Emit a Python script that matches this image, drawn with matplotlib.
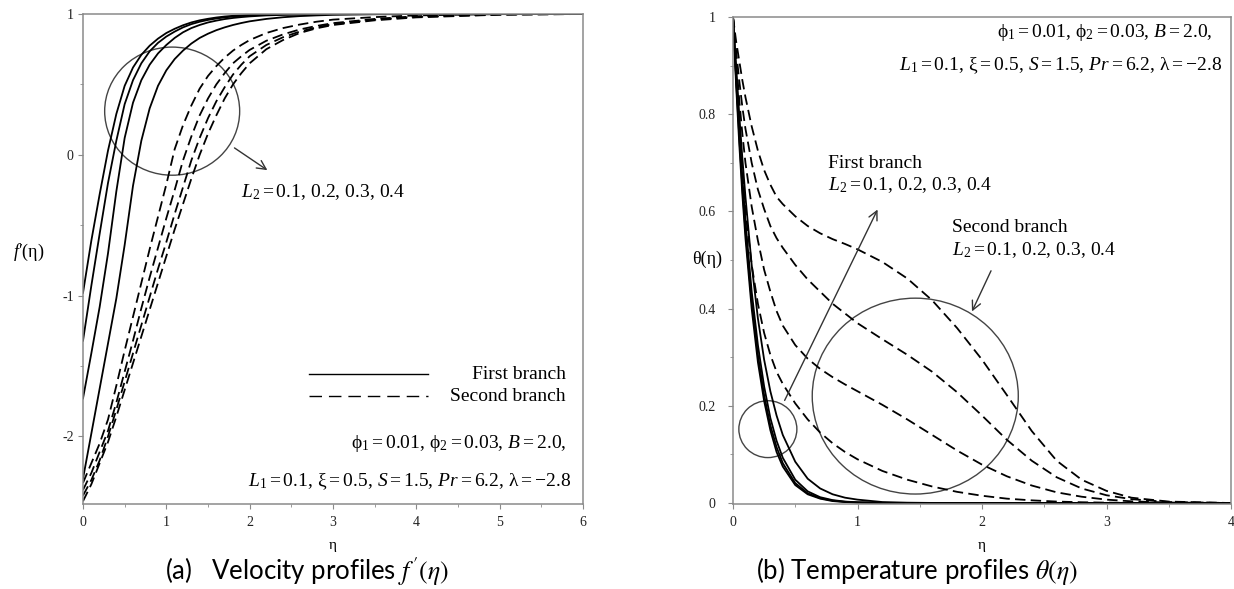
import matplotlib
matplotlib.use("Agg")
import matplotlib.pyplot as plt
from matplotlib.patches import Ellipse
from matplotlib.lines import Line2D

plt.rcParams['font.family'] = ['Liberation Serif', 'DejaVu Serif']
plt.rcParams['mathtext.fontset'] = 'custom'
plt.rcParams['mathtext.rm'] = 'Liberation Serif'
plt.rcParams['mathtext.it'] = 'Liberation Serif:italic'
plt.rcParams['mathtext.bf'] = 'Liberation Serif:bold'
plt.rcParams['lines.scale_dashes'] = False

# ---------------- data: (a) velocity profiles f'(eta) ----------------
eta_a = [0, 0.1, 0.2, 0.3, 0.4, 0.5, 0.6, 0.7, 0.8, 0.9, 1.0, 1.1, 1.2, 1.3, 1.4,
         1.5, 1.6, 1.7, 1.8, 1.9, 2.0, 2.2, 2.4, 2.6, 2.8, 3.0, 3.5, 4.0, 5.0, 6.0]
fp_first_1 = [-0.98, -0.61, -0.28, 0.03, 0.29, 0.49, 0.62, 0.71, 0.775, 0.825, 0.865, 0.895, 0.92, 0.94, 0.955,
              0.966, 0.975, 0.982, 0.987, 0.99, 0.993, 0.996, 0.998, 0.999, 1.0, 1.0, 1.0, 1.0, 1.0, 1.0]
fp_first_2 = [-1.32, -0.93, -0.56, -0.20, 0.10, 0.36, 0.53, 0.65, 0.735, 0.795, 0.84, 0.875, 0.905, 0.928, 0.945,
              0.958, 0.968, 0.976, 0.982, 0.986, 0.99, 0.994, 0.997, 0.998, 0.999, 1.0, 1.0, 1.0, 1.0, 1.0]
fp_first_3 = [-1.73, -1.41, -1.08, -0.70, -0.26, 0.12, 0.37, 0.53, 0.64, 0.72, 0.78, 0.83, 0.87, 0.90, 0.922,
              0.94, 0.953, 0.964, 0.972, 0.978, 0.983, 0.99, 0.994, 0.996, 0.998, 0.999, 1.0, 1.0, 1.0, 1.0]
fp_first_4 = [-2.30, -1.98, -1.66, -1.34, -1.02, -0.64, -0.22, 0.10, 0.33, 0.49, 0.60, 0.68, 0.74, 0.79, 0.83,
              0.86, 0.885, 0.905, 0.922, 0.936, 0.948, 0.965, 0.977, 0.985, 0.99, 0.994, 0.998, 1.0, 1.0, 1.0]
fp_second_1 = [-2.33, -2.19, -2.05, -1.88, -1.64, -1.39, -1.15, -0.91, -0.67, -0.44, -0.21, 0.04, 0.21, 0.35, 0.47,
               0.56, 0.63, 0.69, 0.74, 0.78, 0.815, 0.865, 0.90, 0.925, 0.945, 0.96, 0.978, 0.99, 0.999, 1.0]
fp_second_2 = [-2.38, -2.26, -2.11, -1.96, -1.76, -1.54, -1.32, -1.09, -0.87, -0.66, -0.45, -0.25, -0.04, 0.13, 0.28,
               0.40, 0.50, 0.58, 0.65, 0.70, 0.745, 0.81, 0.855, 0.89, 0.915, 0.935, 0.965, 0.984, 0.998, 1.0]
fp_second_3 = [-2.42, -2.31, -2.17, -2.00, -1.81, -1.61, -1.41, -1.21, -1.01, -0.81, -0.62, -0.42, -0.23, -0.04, 0.12,
               0.26, 0.38, 0.48, 0.57, 0.64, 0.70, 0.78, 0.835, 0.875, 0.905, 0.928, 0.96, 0.98, 0.996, 1.0]
fp_second_4 = [-2.46, -2.34, -2.19, -2.04, -1.86, -1.67, -1.48, -1.29, -1.10, -0.91, -0.72, -0.53, -0.35, -0.17, 0.0,
               0.15, 0.28, 0.40, 0.50, 0.58, 0.65, 0.75, 0.815, 0.865, 0.898, 0.922, 0.955, 0.976, 0.995, 1.0]

# ---------------- data: (b) temperature profiles theta(eta) ----------------
eta_b = [0, 0.025, 0.05, 0.075, 0.1, 0.15, 0.2, 0.25, 0.3, 0.35, 0.4, 0.5, 0.6, 0.7, 0.8,
         0.9, 1.0, 1.2, 1.4, 1.6, 1.8, 2.0, 2.2, 2.4, 2.6, 2.8, 3.0, 3.2, 3.5, 4.0]
th_first_1 = [1, 0.86, 0.74, 0.635, 0.545, 0.40, 0.29, 0.21, 0.15, 0.105, 0.075, 0.037, 0.018, 0.009, 0.004,
              0.002, 0.001, 0.0003, 0, 0, 0, 0, 0, 0, 0, 0, 0, 0, 0, 0]
th_first_2 = [1, 0.87, 0.755, 0.65, 0.56, 0.415, 0.305, 0.222, 0.16, 0.115, 0.082, 0.041, 0.02, 0.01, 0.005,
              0.0025, 0.0012, 0.0003, 0, 0, 0, 0, 0, 0, 0, 0, 0, 0, 0, 0]
th_first_3 = [1, 0.88, 0.77, 0.67, 0.58, 0.435, 0.325, 0.24, 0.175, 0.128, 0.093, 0.048, 0.024, 0.012, 0.006,
              0.003, 0.0015, 0.0004, 0.0001, 0, 0, 0, 0, 0, 0, 0, 0, 0, 0, 0]
th_first_4 = [1, 0.90, 0.80, 0.71, 0.63, 0.49, 0.38, 0.295, 0.23, 0.18, 0.14, 0.085, 0.05, 0.03, 0.018,
              0.011, 0.007, 0.002, 0.0007, 0.0002, 0, 0, 0, 0, 0, 0, 0, 0, 0, 0]
th_second_1 = [1, 0.88, 0.77, 0.68, 0.60, 0.49, 0.41, 0.35, 0.305, 0.27, 0.245, 0.205, 0.172, 0.145, 0.123,
               0.105, 0.09, 0.066, 0.048, 0.034, 0.023, 0.015, 0.009, 0.0055, 0.003, 0.0016, 0.0008, 0.0003, 0, 0]
th_second_2 = [1, 0.91, 0.83, 0.76, 0.70, 0.61, 0.54, 0.48, 0.435, 0.395, 0.365, 0.325, 0.297, 0.276, 0.259,
               0.244, 0.23, 0.202, 0.172, 0.14, 0.108, 0.079, 0.055, 0.036, 0.022, 0.013, 0.007, 0.0035, 0.001, 0]
th_second_3 = [1, 0.93, 0.87, 0.815, 0.77, 0.70, 0.645, 0.605, 0.57, 0.545, 0.525, 0.49, 0.46, 0.435, 0.41,
               0.39, 0.37, 0.337, 0.305, 0.27, 0.228, 0.18, 0.13, 0.087, 0.053, 0.03, 0.016, 0.008, 0.002, 0]
th_second_4 = [1, 0.95, 0.91, 0.87, 0.835, 0.775, 0.725, 0.685, 0.655, 0.63, 0.615, 0.59, 0.57, 0.555, 0.543,
               0.533, 0.522, 0.496, 0.462, 0.417, 0.36, 0.295, 0.222, 0.148, 0.087, 0.048, 0.025, 0.011, 0.003, 0]

fp_first = [fp_first_1, fp_first_2, fp_first_3, fp_first_4]
fp_second = [fp_second_1, fp_second_2, fp_second_3, fp_second_4]
th_first = [th_first_1, th_first_2, th_first_3, th_first_4]
th_second = [th_second_1, th_second_2, th_second_3, th_second_4]

xticks_a = [0, 1, 2, 3, 4, 5, 6]
yticks_a = [-2, -1, 0, 1]
xticks_b = [0, 1, 2, 3, 4]
yticks_b = [0, 0.2, 0.4, 0.6, 0.8, 1]
yticklabels_b = ["0", "0.2", "0.4", "0.6", "0.8", "1"]

legend_labels = ["First branch", "Second branch"]
params_line1 = r"$\mathrm{ϕ}_1=0.01,\,\mathrm{ϕ}_2=0.03,\,B=2.0,$"
params_line2 = r"$L_1=0.1,\,\mathrm{ξ}=0.5,\,S=1.5,\,Pr=6.2,\,\mathrm{λ}=-2.8$"
l2_text = r"$L_2=0.1,\,0.2,\,0.3,\,0.4$"

SERIF = 'Liberation Serif'

# ---------------- figure ----------------
W, H = 1234, 589
fig = plt.figure(figsize=(W / 100, H / 100), dpi=100)
fig.patch.set_facecolor('white')

def px_axes(x0, x1, ytop, ybot):
    return [x0 / W, (H - ybot) / H, (x1 - x0) / W, (ybot - ytop) / H]

ax1 = fig.add_axes(px_axes(83, 583, 14, 504))
ax2 = fig.add_axes(px_axes(733, 1231, 17, 504))

FRAME = '#8a8a8a'
LW = 1.3
DASH = (7.5, 3.8)
TXT = 14

for ax in (ax1, ax2):
    for s in ax.spines.values():
        s.set_color(FRAME)
        s.set_linewidth(1.1)
    ax.tick_params(which='both', direction='out', color=FRAME, top=False, right=False,
                   labelsize=10, labelcolor='#222222')
    ax.tick_params(which='major', length=3.6, width=0.8)
    ax.tick_params(which='minor', length=2.2, width=0.6)

# ---- panel (a)
for ys in fp_first:
    ax1.plot(eta_a, ys, color='black', lw=LW)
for ys in fp_second:
    ax1.plot(eta_a, ys, color='black', lw=LW, dashes=DASH)
ax1.set_xlim(0, 6)
ax1.set_ylim(-2.48, 1.0)
ax1.set_xticks(xticks_a)
ax1.set_xticklabels([str(v) for v in xticks_a], fontfamily=SERIF)
ax1.set_yticks(yticks_a)
ax1.set_yticklabels([str(v) for v in yticks_a], fontfamily=SERIF)
ax1.set_xticks([0.5, 1.5, 2.5, 3.5, 4.5, 5.5], minor=True)
ax1.set_yticks([-1.5, -0.5, 0.5], minor=True)
ax1.tick_params(axis='y', pad=3)
ax1.tick_params(axis='x', pad=5)
ax1.set_xlabel("η", fontsize=11, fontfamily=SERIF)
ax1.xaxis.set_label_coords(0.5, -0.072)
ax1.set_ylabel(r"$f$′(η)", fontsize=13, rotation=0, fontfamily=SERIF)
ax1.yaxis.set_label_coords(-0.108, 0.492)

ax1.add_patch(Ellipse((1.07, 0.31), 1.62, 0.91, fill=False, ec='#444444', lw=1.0))
ax1.annotate("", xy=(2.24, -0.12), xytext=(1.79, 0.06),
             arrowprops=dict(arrowstyle='->', color='#333333', lw=1.0, mutation_scale=16))
ax1.text(1.90, -0.30, l2_text, fontsize=TXT, ha='left', va='baseline')

ax1.add_line(Line2D([0.452, 0.69], [0.265, 0.265], transform=ax1.transAxes, color='black', lw=1.0))
ax1.add_line(Line2D([0.452, 0.69], [0.220, 0.220], transform=ax1.transAxes, color='black', lw=1.0,
                    dashes=(9, 5)))
ax1.text(0.966, 0.265, legend_labels[0], transform=ax1.transAxes, fontsize=TXT, ha='right', va='center')
ax1.text(0.966, 0.220, legend_labels[1], transform=ax1.transAxes, fontsize=TXT, ha='right', va='center')
ax1.text(0.968, 0.114, params_line1, transform=ax1.transAxes, fontsize=TXT, ha='right', va='baseline')
ax1.text(0.976, 0.037, params_line2, transform=ax1.transAxes, fontsize=TXT, ha='right', va='baseline')

# ---- panel (b)
for ys in th_first:
    ax2.plot(eta_b, ys, color='black', lw=LW)
for ys in th_second:
    ax2.plot(eta_b, ys, color='black', lw=LW, dashes=DASH)
ax2.set_xlim(0, 4)
ax2.set_ylim(-0.002, 1.0)
ax2.set_xticks(xticks_b)
ax2.set_xticklabels([str(v) for v in xticks_b], fontfamily=SERIF)
ax2.set_yticks(yticks_b)
ax2.set_yticklabels(yticklabels_b, fontfamily=SERIF)
ax2.set_xticks([0.5, 1.5, 2.5, 3.5], minor=True)
ax2.set_yticks([0.1, 0.3, 0.5, 0.7, 0.9], minor=True)
ax2.tick_params(axis='y', pad=9)
ax2.tick_params(axis='x', pad=5)
ax2.set_xlabel("η", fontsize=11, fontfamily=SERIF)
ax2.xaxis.set_label_coords(0.5, -0.072)
ax2.set_ylabel("θ(η)", fontsize=13, rotation=0, fontfamily=SERIF)
ax2.yaxis.set_label_coords(-0.052, 0.485)

ax2.add_patch(Ellipse((0.28, 0.152), 0.466, 0.117, fill=False, ec='#444444', lw=1.0))
ax2.add_patch(Ellipse((1.464, 0.22), 1.655, 0.403, fill=False, ec='#444444', lw=1.0))
ax2.annotate("", xy=(1.171, 0.609), xytext=(0.405, 0.206),
             arrowprops=dict(arrowstyle='->', color='#333333', lw=1.0, mutation_scale=16))
ax2.annotate("", xy=(1.91, 0.389), xytext=(2.082, 0.483),
             arrowprops=dict(arrowstyle='->', color='#333333', lw=1.0, mutation_scale=16))
ax2.text(0.76, 0.69, legend_labels[0], fontsize=TXT, ha='left', va='baseline')
ax2.text(0.76, 0.644, l2_text, fontsize=TXT, ha='left', va='baseline')
ax2.text(1.76, 0.558, legend_labels[1], fontsize=TXT, ha='left', va='baseline')
ax2.text(1.76, 0.511, l2_text, fontsize=TXT, ha='left', va='baseline')
ax2.text(0.963, 0.959, params_line1, transform=ax2.transAxes, fontsize=TXT, ha='right', va='baseline')
ax2.text(0.983, 0.891, params_line2, transform=ax2.transAxes, fontsize=TXT, ha='right', va='baseline')

# ---- captions
fig.text(307 / W, (H - 571) / H, r"(a)   Velocity profiles $f\,'(\eta)$", fontsize=18.5,
         family='Lato', ha='center', va='center', math_fontfamily='stix')
fig.text(917 / W, (H - 571) / H, r"(b) Temperature profiles $\theta(\eta)$", fontsize=18.5,
         family='Lato', ha='center', va='center', math_fontfamily='stix')

fig.savefig("out.png", dpi=100, facecolor='white')
